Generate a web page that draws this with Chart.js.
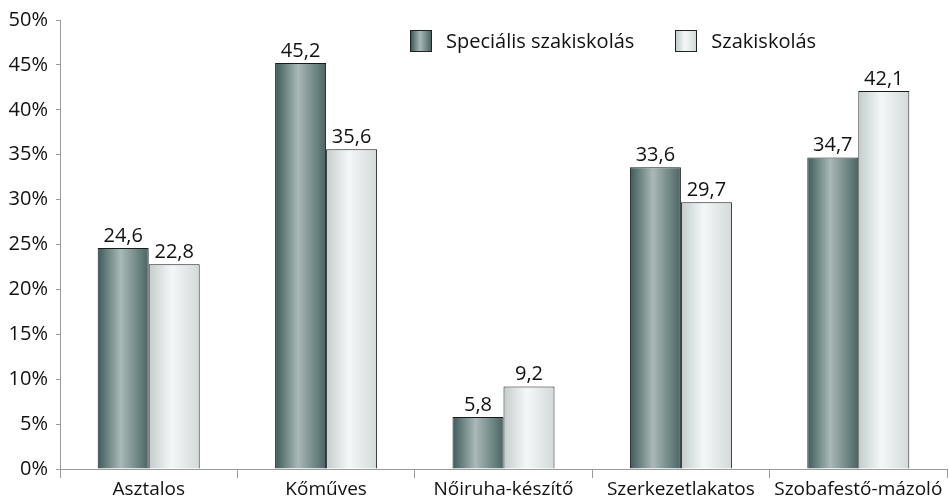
<!DOCTYPE html>
<html lang="hu">
<head>
    <meta charset="UTF-8">
    <title>Szakiskolák</title>
    <style>
        body {
            margin: 0;
            background: #ffffff;
            font-family: "Open Sans", sans-serif;
        }
        .wrap {
            position: relative;
            width: 949px;
            height: 498px;
        }
        .legend {
            position: absolute;
            top: 27px;
            left: 410px;
            font-size: 20px;
            color: #111;
            display: flex;
            align-items: center;
        }
        .legend span.box {
            display: inline-block;
            box-sizing: border-box;
            width: 22px;
            height: 22px;
            border: 1px solid #222;
            margin-right: 14px;
        }
        .legend .item {
            display: flex;
            align-items: center;
            margin-right: 41px;
        }
        .dark { background: linear-gradient(to right, #3d5a59, #a9b9b7 45%, #4a6564); }
        .light { background: linear-gradient(to right, #c3cdcc, #f4f7f7 45%, #d2dad9); }
    </style>
</head>
<body>
    <div class="wrap">
        <canvas id="chart"></canvas>
        <div class="legend">
            <div class="item"><span class="box dark"></span>Speciális szakiskolás</div>
            <div class="item"><span class="box light"></span>Szakiskolás</div>
        </div>
    </div>
    <script src="https://cdn.jsdelivr.net/npm/chart.js@4/dist/chart.umd.min.js"></script>
    <script>
        const categories = ['Asztalos', 'Kőműves', 'Nőiruha-készítő', 'Szerkezetlakatos', 'Szobafestő-mázoló'];
        const specialis = [24.6, 45.2, 5.8, 33.6, 34.7];
        const szakiskolas = [22.8, 35.6, 9.2, 29.7, 42.1];
        const yTicks = [0, 5, 10, 15, 20, 25, 30, 35, 40, 45, 50];

        const catPct = 0.575;

        // vízszintes színátmenet oszloponként
        function barGradient(stops) {
            return function (ctx) {
                const chart = ctx.chart;
                const x = chart.scales.x;
                if (!chart.chartArea || !x) return stops[1];
                const center = x.getPixelForValue(ctx.dataIndex);
                const barW = x.width / categories.length * catPct / 2;
                const left = ctx.datasetIndex === 0 ? center - barW : center;
                const g = chart.ctx.createLinearGradient(left, 0, left + barW, 0);
                g.addColorStop(0, stops[0]);
                g.addColorStop(0.45, stops[1]);
                g.addColorStop(1, stops[2]);
                return g;
            };
        }

        const valueLabels = {
            id: 'valueLabels',
            afterDatasetsDraw(chart) {
                const c = chart.ctx;
                c.save();
                c.font = '20px "Open Sans", sans-serif';
                c.fillStyle = '#111';
                c.textAlign = 'center';
                c.textBaseline = 'alphabetic';
                chart.data.datasets.forEach((ds, i) => {
                    chart.getDatasetMeta(i).data.forEach((el, j) => {
                        c.fillText(ds.data[j].toFixed(1).replace('.', ','), el.x, el.y - 6);
                    });
                });
                c.restore();
            }
        };

        new Chart(document.getElementById('chart'), {
            type: 'bar',
            data: {
                labels: categories,
                datasets: [
                    {
                        label: 'Speciális szakiskolás',
                        data: specialis,
                        backgroundColor: barGradient(['#3d5a59', '#a9b9b7', '#4a6564']),
                        borderColor: '#1a1a1a',
                        borderWidth: 1
                    },
                    {
                        label: 'Szakiskolás',
                        data: szakiskolas,
                        backgroundColor: barGradient(['#c3cdcc', '#f4f7f7', '#d2dad9']),
                        borderColor: '#1a1a1a',
                        borderWidth: 1
                    }
                ]
            },
            options: {
                responsive: true,
                maintainAspectRatio: false,
                animation: false,
                datasets: {
                    bar: { categoryPercentage: catPct, barPercentage: 1 }
                },
                layout: { padding: { top: 19, right: 2, left: 0, bottom: 0 } },
                plugins: {
                    legend: { display: false },
                    tooltip: { enabled: false }
                },
                scales: {
                    x: {
                        afterFit(scale) { scale.height = 29; },
                        grid: {
                            offset: true,
                            drawOnChartArea: false,
                            tickLength: 9,
                            color: '#9a9a9a'
                        },
                        border: { color: '#9a9a9a' },
                        ticks: {
                            color: '#111',
                            font: { family: 'Open Sans', size: 19 },
                            padding: 0,
                            maxRotation: 0,
                            autoSkip: false
                        }
                    },
                    y: {
                        min: 0,
                        max: 50,
                        afterFit(scale) { scale.width = 60; },
                        afterBuildTicks(scale) {
                            scale.ticks = yTicks.map(v => ({ value: v }));
                        },
                        grid: {
                            drawOnChartArea: false,
                            tickLength: 4,
                            color: '#9a9a9a'
                        },
                        border: { color: '#9a9a9a' },
                        ticks: {
                            color: '#111',
                            font: { family: 'Open Sans', size: 20 },
                            padding: 8,
                            callback: v => v + '%'
                        }
                    }
                }
            },
            plugins: [valueLabels]
        });
    </script>
</body>
</html>
